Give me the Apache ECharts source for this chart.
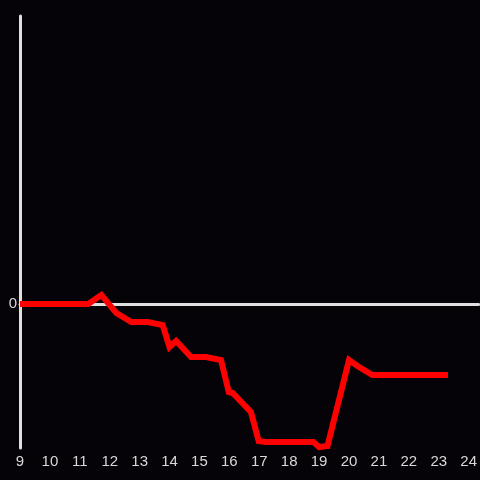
<!DOCTYPE html>
<html>
<head>
<meta charset="utf-8">
<script src="https://cdn.jsdelivr.net/npm/echarts@6/dist/echarts.min.js"></script>
<style>
  html, body { margin: 0; padding: 0; background: #050307; }
  #chart { width: 480px; height: 480px; }
</style>
</head>
<body>
<div id="chart"></div>
<script>
// hour of day
const hours = [9, 11.28, 11.72, 12.22, 12.72, 13.27, 13.77, 14.0, 14.22, 14.72, 15.22, 15.72, 15.98,
  16.11, 16.72, 16.98, 17.22, 18.81, 19.0, 19.28, 20.0, 20.28, 20.78, 23.31];
const values = [0, 0, 9, -9, -18, -18, -21, -43, -37, -53, -53, -56, -88,
  -89, -108, -137, -138, -138, -143, -142, -56, -62, -71, -71];
const xTicks = [9, 10, 11, 12, 13, 14, 15, 16, 17, 18, 19, 20, 21, 22, 23, 24];

const chart = echarts.init(document.getElementById("chart"));
const axisColor = "#e0e0e0";
const labelColor = "#d8d8d8";

chart.setOption({
  backgroundColor: "#050307",
  animation: false,
  grid: { left: 20, right: 0, top: 16, bottom: 32 },
  xAxis: [
    {
      type: "value",
      min: 9,
      max: 24 + 1 / 3,
      interval: 1,
      axisLine: { show: false, onZero: false },
      axisTick: { show: false },
      splitLine: { show: false },
      axisLabel: {
        color: labelColor,
        fontSize: 15,
        margin: 6,
        showMaxLabel: false,
        formatter: (v) => (xTicks.includes(v) ? String(v) : ""),
      },
    },
    {
      // zero line
      type: "value",
      min: 9,
      max: 24 + 1 / 3,
      position: "bottom",
      axisLine: { show: true, onZero: true, lineStyle: { color: axisColor, width: 3 } },
      axisTick: { show: false },
      axisLabel: { show: false },
      splitLine: { show: false },
    },
  ],
  yAxis: {
    type: "value",
    min: -144,
    max: 288,
    interval: 144,
    axisLine: { show: true, lineStyle: { color: axisColor, width: 3 } },
    axisTick: { show: false },
    splitLine: { show: false },
    axisLabel: {
      color: labelColor,
      fontSize: 15,
      margin: 3,
      formatter: (v) => (v === 0 ? "0" : ""),
    },
  },
  series: [
    {
      type: "line",
      data: hours.map((h, i) => [h, values[i]]),
      showSymbol: false,
      symbol: "none",
      clip: false,
      lineStyle: { color: "#ff0000", width: 6, join: "miter" },
      z: 5,
    },
  ],
});
</script>
</body>
</html>
